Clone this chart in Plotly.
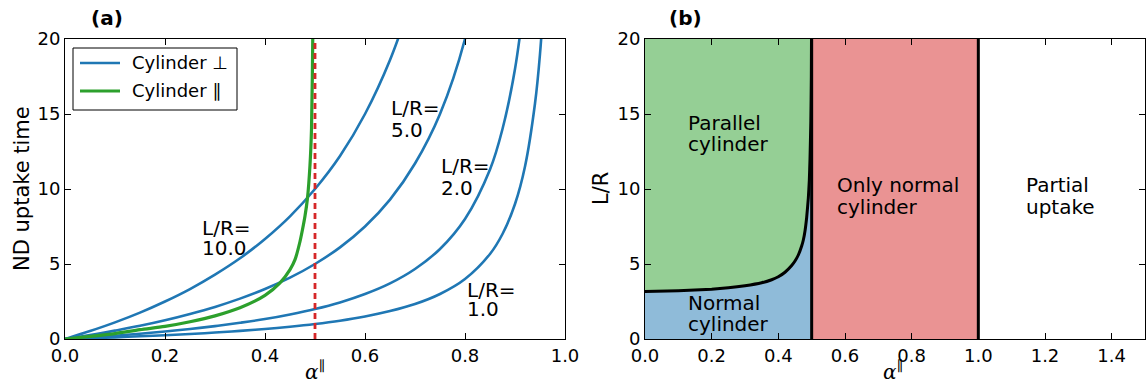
import plotly.graph_objects as go

W, H = 1146, 385

# ---- panel (a): uptake time vs alpha ----
ALPHA_PERP = [0.0, 0.05, 0.1, 0.15, 0.2, 0.25, 0.3, 0.35, 0.4, 0.45, 0.5, 0.55,
              0.6, 0.65, 0.7, 0.75, 0.8, 0.85, 0.875, 0.9, 0.92, 0.94, 0.95, 0.96]
T_LR10 = [0, 0.53, 1.11, 1.76, 2.5, 3.33, 4.29, 5.38, 6.67, 8.18, 10.0, 12.2,
          15.0, 18.6, 23.3]
T_LR5 = [0, 0.26, 0.56, 0.88, 1.25, 1.67, 2.14, 2.69, 3.33, 4.09, 5.0, 6.11,
         7.5, 9.29, 11.7, 15.0, 20.0, 28.3]
T_LR2 = [0, 0.11, 0.22, 0.35, 0.5, 0.67, 0.86, 1.08, 1.33, 1.64, 2.0, 2.44,
         3.0, 3.71, 4.67, 6.0, 8.0, 11.3, 14.0, 18.0, 23.0]
T_LR1 = [0, 0.05, 0.11, 0.18, 0.25, 0.33, 0.43, 0.54, 0.67, 0.82, 1.0, 1.22,
         1.5, 1.86, 2.33, 3.0, 4.0, 5.67, 7.0, 9.0, 11.5, 15.7, 19.0, 24.0]
PERP_SERIES = [("10.0", T_LR10), ("5.0", T_LR5), ("2.0", T_LR2), ("1.0", T_LR1)]

ALPHA_PAR = [0.0, 0.05, 0.1, 0.15, 0.2, 0.25, 0.3, 0.35, 0.4, 0.43, 0.45, 0.46,
             0.47, 0.475, 0.48, 0.485, 0.49, 0.493, 0.4955, 0.498]
T_PAR = [0, 0.17, 0.36, 0.62, 0.84, 1.15, 1.54, 2.08, 2.91, 3.74, 4.63, 5.29,
         6.5, 7.3, 8.2, 9.4, 11.6, 14.0, 20.0, 30.0]

CRITICAL_ALPHA = 0.5

# label text, left alpha, line-1 y, line-2 y
PERP_LABELS = [("L/R=", "10.0", 0.272, 7.38, 6.05),
               ("L/R=", "5.0", 0.65, 15.43, 13.93),
               ("L/R=", "2.0", 0.75, 11.53, 10.07),
               ("L/R=", "1.0", 0.802, 3.27, 1.97)]

LEGEND_ITEMS = [("Cylinder ⊥", "#1f77b4", 2.6), ("Cylinder ∥", "#2ca02c", 3.2)]

# ---- panel (b): regime map ----
ALPHA_B = [0.0, 0.1, 0.2, 0.25, 0.3, 0.35, 0.38, 0.4, 0.42, 0.44, 0.45, 0.46,
           0.47, 0.475, 0.48, 0.485, 0.49, 0.493, 0.495, 0.4975, 0.499, 0.4995]
LR_B = [3.17, 3.22, 3.32, 3.41, 3.55, 3.75, 3.95, 4.15, 4.45, 4.9, 5.2, 5.6,
        6.2, 6.6, 7.2, 8.1, 9.4, 10.6, 12.0, 14.5, 17.5, 20.0]
REGIME_EDGES = [0.5, 1.0]

REGION_LABELS = [("Parallel", "cylinder", 0.125, 14.43, 12.97),
                 ("Normal", "cylinder", 0.125, 2.43, 0.97),
                 ("Only normal", "cylinder", 0.574, 10.27, 8.8),
                 ("Partial", "uptake", 1.141, 10.27, 8.8)]

BLUE = "#1f77b4"
GREEN = "#2ca02c"
RED = "#d62728"
FILL_GREEN = "#95cf95"
FILL_BLUE = "#8fbbd9"
FILL_RED = "#ea9393"
FONT = "DejaVu Sans"


def px(xp):
    return xp / W


def py(yp):
    return 1 - yp / H


fig = go.Figure()

for i, (name, t) in enumerate(PERP_SERIES):
    fig.add_trace(go.Scatter(
        x=ALPHA_PERP[:len(t)], y=t, mode="lines",
        line=dict(color=BLUE, width=2.6, shape="spline", smoothing=1),
        name="Cylinder ⊥", showlegend=False, xaxis="x", yaxis="y"))

fig.add_trace(go.Scatter(
    x=ALPHA_PAR, y=T_PAR, mode="lines",
    line=dict(color=GREEN, width=3.2, shape="spline", smoothing=0.8),
    name="Cylinder ∥", showlegend=False, xaxis="x", yaxis="y"))

fig.add_trace(go.Scatter(
    x=[CRITICAL_ALPHA, CRITICAL_ALPHA], y=[0, 20], mode="lines",
    line=dict(color=RED, width=2.8, dash="6px,4px"),
    showlegend=False, xaxis="x", yaxis="y"))

# panel (b) regions
shapes = [
    dict(type="rect", xref="x2", yref="y2", x0=0, x1=0.5, y0=0, y1=20,
         fillcolor=FILL_GREEN, line=dict(width=0), layer="below"),
    dict(type="rect", xref="x2", yref="y2", x0=0.5, x1=1.0, y0=0, y1=20,
         fillcolor=FILL_RED, line=dict(width=0), layer="below"),
]

fig.add_trace(go.Scatter(
    x=ALPHA_B + [0.5], y=LR_B + [20], mode="lines", fill="tozeroy",
    fillcolor=FILL_BLUE, line=dict(width=0),
    showlegend=False, hoverinfo="skip", xaxis="x2", yaxis="y2"))

fig.add_trace(go.Scatter(
    x=ALPHA_B, y=LR_B, mode="lines",
    line=dict(color="black", width=3, shape="spline", smoothing=0.4),
    showlegend=False, xaxis="x2", yaxis="y2"))

for xe in REGIME_EDGES:
    fig.add_trace(go.Scatter(
        x=[xe, xe], y=[0, 20], mode="lines",
        line=dict(color="black", width=3),
        showlegend=False, xaxis="x2", yaxis="y2"))

annotations = []
for l1, l2, ax, y1, y2 in PERP_LABELS:
    for txt, yy in ((l1, y1), (l2, y2)):
        annotations.append(dict(x=ax, y=yy, xref="x", yref="y", text=txt,
                                showarrow=False, xanchor="left", yanchor="middle",
                                borderpad=0,
                                font=dict(family=FONT, size=20, color="black")))
for l1, l2, ax, y1, y2 in REGION_LABELS:
    for txt, yy in ((l1, y1), (l2, y2)):
        annotations.append(dict(x=ax, y=yy, xref="x2", yref="y2", text=txt,
                                showarrow=False, xanchor="left", yanchor="middle",
                                borderpad=0,
                                font=dict(family=FONT, size=20, color="black")))

# legend box drawn by hand in panel (a)
shapes.append(dict(type="rect", xref="paper", yref="paper",
                   x0=px(73), x1=px(237), y0=py(110), y1=py(48),
                   fillcolor="white", line=dict(color="black", width=1), layer="above"))
for k, (label, color, lw) in enumerate(LEGEND_ITEMS):
    yrow = 63 + 28 * k
    shapes.append(dict(type="line", xref="paper", yref="paper",
                       x0=px(80), x1=px(120), y0=py(yrow), y1=py(yrow),
                       line=dict(color=color, width=lw), layer="above"))
    annotations.append(dict(x=px(131), y=py(yrow), xref="paper", yref="paper",
                            text=label, showarrow=False, xanchor="left",
                            yanchor="middle", borderpad=0,
                            font=dict(family=FONT, size=18, color="black")))

# axis titles and panel tags
annotations += [
    dict(x=px(22), y=py(189), xref="paper", yref="paper", text="ND uptake time",
         textangle=-90, showarrow=False, xanchor="center", yanchor="middle",
         font=dict(family=FONT, size=21, color="black")),
    dict(x=px(601), y=py(189), xref="paper", yref="paper", text="L/R",
         textangle=-90, showarrow=False, xanchor="center", yanchor="middle",
         font=dict(family=FONT, size=21, color="black")),
    dict(x=px(315), y=py(385), xref="paper", yref="paper",
         text="<i>α</i><sup>∥</sup>", showarrow=False, xanchor="center",
         yanchor="bottom", borderpad=0,
         font=dict(family="DejaVu Serif", size=20, color="black")),
    dict(x=px(893), y=py(385), xref="paper", yref="paper",
         text="<i>α</i><sup>∥</sup>", showarrow=False, xanchor="center",
         yanchor="bottom", borderpad=0,
         font=dict(family="DejaVu Serif", size=20, color="black")),
    dict(x=px(89), y=py(18), xref="paper", yref="paper", text="<b>(a)</b>",
         showarrow=False, xanchor="left", yanchor="middle",
         font=dict(family=FONT, size=20, color="black")),
    dict(x=px(667), y=py(18), xref="paper", yref="paper", text="<b>(b)</b>",
         showarrow=False, xanchor="left", yanchor="middle",
         font=dict(family=FONT, size=20, color="black")),
]

axis_common = dict(showgrid=False, zeroline=False, showline=True, linecolor="black",
                   linewidth=1, mirror="ticks", ticks="inside", ticklen=6,
                   tickwidth=1, tickcolor="black", automargin=False,
                   tickfont=dict(family=FONT, size=18, color="black"))

ydom = [py(339), py(39)]
fig.update_layout(
    width=W, height=H, margin=dict(l=0, r=0, t=0, b=0, autoexpand=False),
    paper_bgcolor="white", plot_bgcolor="white",
    xaxis=dict(domain=[px(65), px(565)], range=[0, 1], dtick=0.2, tick0=0,
               tickformat=".1f", anchor="y", **axis_common),
    yaxis=dict(domain=ydom, range=[0, 20], dtick=5, tick0=0, anchor="x",
               **axis_common),
    xaxis2=dict(domain=[px(645), px(1145)], range=[0, 1.5], dtick=0.2, tick0=0,
                tickformat=".1f", anchor="y2", **axis_common),
    yaxis2=dict(domain=ydom, range=[0, 20], dtick=5, tick0=0, anchor="x2",
                **axis_common),
    shapes=shapes,
    annotations=annotations,
    showlegend=False,
)

fig.write_html("out.html")
